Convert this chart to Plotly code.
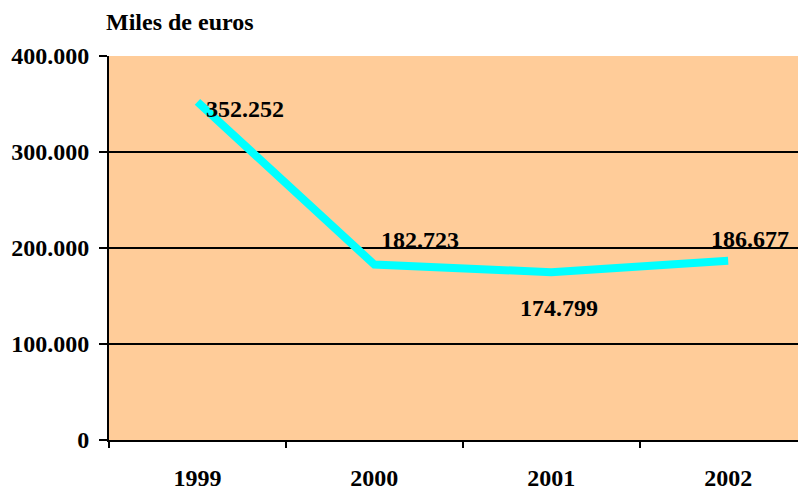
import plotly.graph_objects as go

years = ["1999", "2000", "2001", "2002"]
values = [352252, 182723, 174799, 186677]
value_labels = ["352.252", "182.723", "174.799", "186.677"]
y_ticks = [0, 100000, 200000, 300000, 400000]
y_tick_labels = ["0", "100.000", "200.000", "300.000", "400.000"]

FONT = "Liberation Serif"

fig = go.Figure()

fig.add_trace(go.Scatter(
    x=years,
    y=values,
    mode="lines",
    line=dict(color="#00FFFF", width=8),
    hoverinfo="skip",
    showlegend=False
))

# label placement per point: (xanchor, xshift, yshift)
label_pos = [("left", 7, -7), ("left", 5, 25), ("center", 8, -36), ("left", -19, 22)]
for i, (v, txt, (anchor, dx, dy)) in enumerate(zip(values, value_labels, label_pos)):
    fig.add_annotation(
        x=i, y=v, text=txt, showarrow=False,
        xanchor=anchor, yanchor="middle", xshift=dx, yshift=dy,
        font=dict(family=FONT, size=24, color="black", weight="bold")
    )

fig.add_annotation(
    xref="paper", yref="paper", x=0, y=1,
    xanchor="left", yanchor="bottom", xshift=-4, yshift=20, borderpad=0,
    text="Miles de euros", showarrow=False,
    font=dict(family=FONT, size=24, color="black", weight="bold")
)

# page body has an 8px margin, so the figure is sized to fit the window
fig.update_layout(
    width=798,
    height=482,
    margin=dict(l=101, r=0, t=48, b=50),
    plot_bgcolor="#FFCC99",
    paper_bgcolor="white",
    font=dict(family=FONT, size=24, color="black", weight="bold"),
    xaxis=dict(
        type="category",
        range=[-0.5, 3.44],
        automargin=False,
        showgrid=False,
        zeroline=False,
        showline=True,
        linecolor="black",
        linewidth=2,
        ticks="outside",
        tickson="boundaries",
        ticklen=6,
        tickwidth=2,
        tickcolor="black",
        ticklabelstandoff=15
    ),
    yaxis=dict(
        range=[0, 400000],
        tickvals=y_ticks,
        ticktext=y_tick_labels,
        automargin=False,
        showgrid=True,
        gridcolor="black",
        gridwidth=1.5,
        zeroline=False,
        showline=True,
        linecolor="black",
        linewidth=2,
        ticks="outside",
        ticklen=8,
        tickwidth=2,
        tickcolor="black",
        ticklabelstandoff=5
    )
)

fig.write_html("out.html")
